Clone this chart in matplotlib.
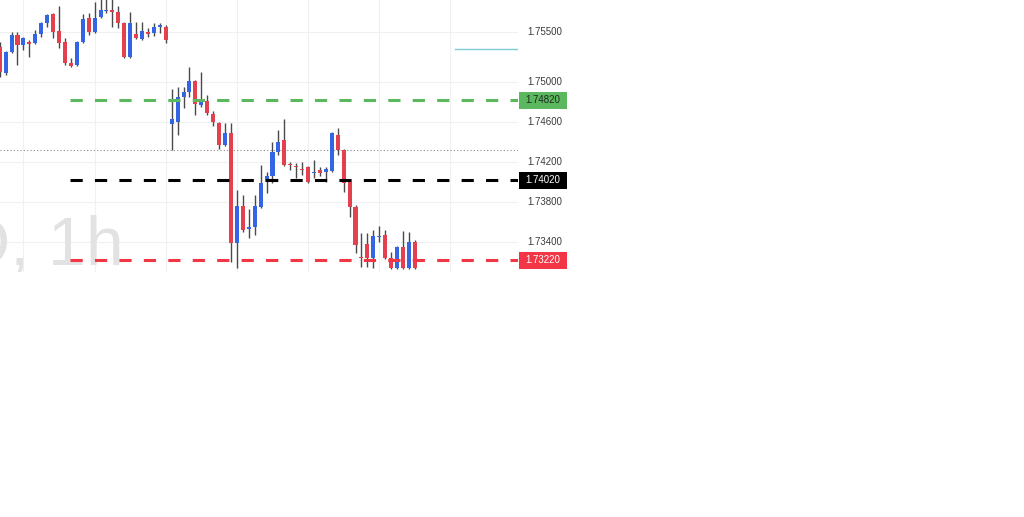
import matplotlib.pyplot as plt
import numpy as np
from matplotlib import transforms
from matplotlib.patches import Rectangle

plt.rcParams['font.family'] = ['Liberation Sans', 'DejaVu Sans']

# ローソク足 (1時間足)
opens = [1.7535, 1.7509, 1.7530, 1.7547, 1.7537, 1.7540, 1.7539, 1.7548, 1.7559, 1.7568,
         1.7551, 1.7540, 1.7519, 1.7517, 1.7540, 1.7564, 1.7550, 1.7565, 1.7571, 1.7572,
         1.7570, 1.7559, 1.7525, 1.7548, 1.7543, 1.7550, 1.7549, 1.7555, 1.7555, 1.7458,
         1.7460, 1.7485, 1.7490, 1.7501, 1.7477, 1.7481, 1.7468, 1.7459, 1.7437, 1.7449,
         1.7339, 1.7376, 1.7353, 1.7355, 1.7375, 1.7400, 1.7406, 1.7430, 1.7442, 1.7418,
         1.7416, 1.7413, 1.7415, 1.7409, 1.7412, 1.7410, 1.7411, 1.7447, 1.7432, 1.7400,
         1.7375, 1.7325, 1.7338, 1.7324, 1.7345, 1.7347, 1.7324, 1.7314, 1.7335, 1.7314,
         1.7340]
highs = [1.7540, 1.7531, 1.7550, 1.7550, 1.7545, 1.7542, 1.7552, 1.7560, 1.7568, 1.7569,
         1.7576, 1.7544, 1.7524, 1.7541, 1.7568, 1.7569, 1.7580, 1.7587, 1.7587, 1.7587,
         1.7576, 1.7560, 1.7570, 1.7560, 1.7560, 1.7554, 1.7559, 1.7559, 1.7557, 1.7493,
         1.7495, 1.7495, 1.7515, 1.7502, 1.7510, 1.7487, 1.7471, 1.7460, 1.7459, 1.7459,
         1.7392, 1.7387, 1.7373, 1.7387, 1.7417, 1.7410, 1.7440, 1.7452, 1.7463, 1.7420,
         1.7419, 1.7420, 1.7416, 1.7422, 1.7415, 1.7415, 1.7450, 1.7454, 1.7433, 1.7401,
         1.7377, 1.7349, 1.7349, 1.7352, 1.7356, 1.7352, 1.7330, 1.7336, 1.7351, 1.7350,
         1.7342]
lows = [1.7505, 1.7507, 1.7529, 1.7517, 1.7532, 1.7525, 1.7538, 1.7545, 1.7555, 1.7544,
        1.7534, 1.7517, 1.7515, 1.7516, 1.7539, 1.7547, 1.7549, 1.7564, 1.7569, 1.7555,
        1.7554, 1.7524, 1.7524, 1.7543, 1.7542, 1.7545, 1.7546, 1.7549, 1.7539, 1.7432,
        1.7447, 1.7474, 1.7485, 1.7467, 1.7475, 1.7467, 1.7456, 1.7433, 1.7436, 1.7320,
        1.7314, 1.7350, 1.7344, 1.7347, 1.7374, 1.7389, 1.7399, 1.7427, 1.7416, 1.7412,
        1.7404, 1.7407, 1.7399, 1.7404, 1.7406, 1.7400, 1.7410, 1.7427, 1.7390, 1.7365,
        1.7329, 1.7315, 1.7315, 1.7314, 1.7340, 1.7323, 1.7313, 1.7313, 1.7313, 1.7313,
        1.7313]
closes = [1.7510, 1.7530, 1.7547, 1.7537, 1.7544, 1.7538, 1.7548, 1.7559, 1.7567, 1.7550,
          1.7539, 1.7519, 1.7516, 1.7540, 1.7563, 1.7550, 1.7564, 1.7572, 1.7572, 1.7570,
          1.7559, 1.7525, 1.7559, 1.7544, 1.7551, 1.7548, 1.7555, 1.7557, 1.7542, 1.7463,
          1.7485, 1.7490, 1.7501, 1.7478, 1.7480, 1.7469, 1.7460, 1.7437, 1.7449, 1.7339,
          1.7376, 1.7352, 1.7355, 1.7376, 1.7399, 1.7406, 1.7430, 1.7440, 1.7417, 1.7417,
          1.7415, 1.7412, 1.7400, 1.7410, 1.7409, 1.7413, 1.7449, 1.7432, 1.7399, 1.7375,
          1.7337, 1.7324, 1.7324, 1.7346, 1.7346, 1.7324, 1.7314, 1.7335, 1.7314, 1.7340,
          1.7314]

# 価格軸の目盛り
price_ticks = [1.755, 1.750, 1.746, 1.742, 1.738, 1.734]
# 水平線 (価格, 色, ラベル文字色)
levels = [1.7482, 1.7402, 1.7322]
level_colors = ['#5cb85f', '#000000', '#f23645']
level_text_colors = ['#1e2a1e', '#ffffff', '#ffffff']
last_price = 1.7432
cyan_price = 1.7533

fig = plt.figure(figsize=(10.24, 5.17), dpi=100)
ax = fig.add_axes([0, 245 / 517, 518 / 1024, 272 / 517])
ax.set_xlim(0.05, 87.4)
ax.set_ylim(1.7310, 1.7582)
for s in ax.spines.values():
    s.set_visible(False)
ax.set_xticks([])
ax.set_yticks([])

# グリッド
for t in price_ticks:
    ax.axhline(t, color='#eef0f4', lw=0.8, zorder=0)
for gx in range(4, 88, 12):
    ax.axvline(gx, color='#eef0f4', lw=0.8, zorder=0)

# ウォーターマーク
ax.text(0.239, 0.026, 'EURAUD, 1h', transform=ax.transAxes, ha='right', va='baseline',
        fontsize=49, color='#e2e2e2', zorder=0, clip_on=True)

# ローソク足
x = np.arange(len(opens))
o = np.array(opens)
c = np.array(closes)
up = c >= o
cols = np.where(up, '#3465e4', '#e5404e')
ax.vlines(x, lows, highs, color='#4a4a4a', lw=1.0, zorder=2)
bottom = np.minimum(o, c)
height = np.maximum(np.abs(c - o), 0.00012)
ax.bar(x, height, bottom=bottom, width=0.68, color=cols, zorder=3)

# 水平線
for lv, col in zip(levels, level_colors):
    ax.plot([11.85, 87.4], [lv, lv], color=col, lw=2.2, ls=(0, (4, 4)), zorder=4)
ax.axhline(last_price, color='#8a8a8a', lw=0.8, ls=(0, (1, 2)), zorder=1)
ax.plot([76.8, 87.2], [cyan_price, cyan_price], color='#7fc9d8', lw=1.0, zorder=4)

# 価格ラベル
trans = transforms.blended_transform_factory(fig.transFigure, ax.transData)
for t in price_ticks:
    ax.text(527 / 1024, t, f'{t:.5f}', transform=trans, ha='left', va='center',
            fontsize=7, color='#3a3a3a', clip_on=False)
for lv, col, tc in zip(levels, level_colors, level_text_colors):
    ax.add_patch(Rectangle((519 / 1024, lv - 0.00085), 48 / 1024, 0.0017, transform=trans,
                           facecolor=col, edgecolor='none', clip_on=False, zorder=5))
    ax.text(543 / 1024, lv, f'{lv:.5f}', transform=trans, ha='center', va='center',
            fontsize=7, color=tc, clip_on=False, zorder=6)

fig.savefig('out.png', dpi=100)
